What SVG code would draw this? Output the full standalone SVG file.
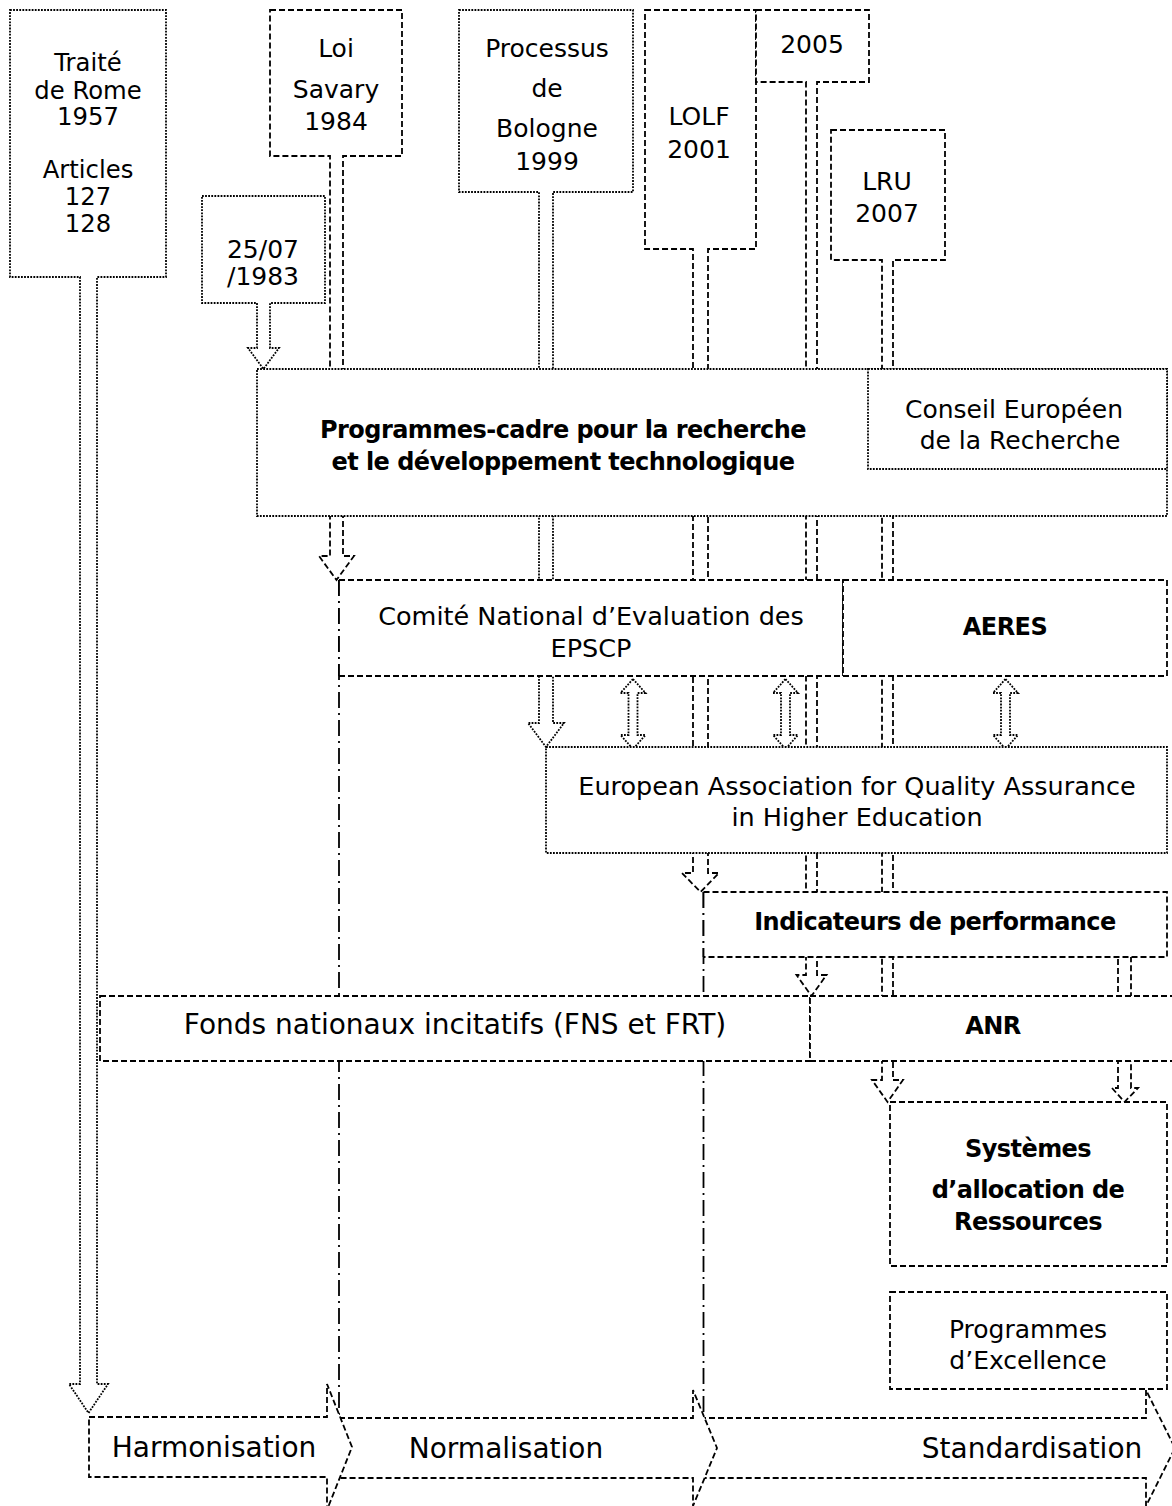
<svg xmlns="http://www.w3.org/2000/svg" width="1172" height="1506" viewBox="0 0 1172 1506">
<style>
.dot{fill:#fff;stroke:#000;stroke-width:1.8;stroke-dasharray:1.8 1.3}
.dash{fill:#fff;stroke:#000;stroke-width:1.8;stroke-dasharray:6 3}
.dashN{fill:none;stroke:#000;stroke-width:1.8;stroke-dasharray:6 3}
.dd{fill:none;stroke:#000;stroke-width:1.8;stroke-dasharray:16 5 2 5}
text{font-family:"DejaVu Sans",Verdana,sans-serif;font-size:25px;fill:#000;text-anchor:middle}
.b{font-weight:bold;font-size:24px;letter-spacing:-0.55px}
.l{font-size:28px}
.m{font-size:25.5px}
.s{font-size:24.3px}
</style>
<rect width="1172" height="1506" fill="#fff"/>
<g id="connectors">
<path id="c-traite" class="dot" d="M10,10 H166 V277 H97 V1384 H108 L88.5,1413 L69,1384 H80 V277 H10 Z"/>
<path id="c-savary" class="dash" d="M270,10 H402 V156 H343 V556 H354 L336.5,580 L319,556 H330 V156 H270 Z"/>
<path id="c-1983" class="dot" d="M202,196 H325 V303 H270 V348 H279 L263.5,369 L248,348 H257 V303 H202 Z"/>
<path id="c-bologne" class="dot" d="M459,10 H633 V192 H553 V723 H564 L546,747 L528,723 H539 V192 H459 Z"/>
<path id="c-lolf" class="dash" d="M645,10 H756 V249 H708 V873 H719 L700.5,892 L682,873 H693 V249 H645 Z"/>
<path id="c-2005" class="dash" d="M756,10 H869 V82 H817 V975 H826.5 L811.5,996 L796.5,975 H806 V82 H756 Z"/>
<path id="c-lru" class="dash" d="M831,130 H945 V260 H893 V1080 H903 L887.5,1102 L872,1080 H882 V260 H831 Z"/>
<path id="c-ind-sys" class="dash" d="M1118,950 V1088 H1112 L1124.5,1102 L1138,1088 H1131 V950"/>
<path id="c-dd1" class="dd" d="M339,580 V1417"/>
<path id="c-dd2" class="dd" d="M703.5,892 V1418"/>
<path id="c-x1" class="dot" d="M633,679 L645.5,693 H637.5 V735 H645.5 L633,749 L620.5,735 H628.5 V693 H620.5 Z"/>
<path id="c-x2" class="dot" d="M785.5,679 L798,693 H790 V735 H798 L785.5,749 L773,735 H781 V693 H773 Z"/>
<path id="c-x3" class="dot" d="M1005.5,679 L1018,693 H1010 V735 H1018 L1005.5,749 L993,735 H1001 V693 H993 Z"/>
</g>
<g id="n-traite"><text class="s" x="88" y="71">Traité</text><text class="s" x="88" y="99">de Rome</text><text class="s" x="88" y="125">1957</text><text class="s" x="88" y="178">Articles</text><text class="s" x="88" y="205">127</text><text class="s" x="88" y="232">128</text></g>
<g id="n-savary"><text x="336" y="57">Loi</text><text x="336" y="98">Savary</text><text x="336" y="130">1984</text></g>
<g id="n-1983"><text x="263" y="258">25/07</text><text x="263" y="285">/1983</text></g>
<g id="n-bologne"><text x="547" y="57">Processus</text><text x="547" y="97">de</text><text x="547" y="137">Bologne</text><text x="547" y="170">1999</text></g>
<g id="n-lolf"><text x="699" y="125">LOLF</text><text x="699" y="158">2001</text></g>
<g id="n-2005"><text x="812" y="53">2005</text></g>
<g id="n-lru"><text x="887" y="190">LRU</text><text x="887" y="222">2007</text></g>
<g id="n-pcrd"><rect class="dot" x="257" y="369" width="910" height="147"/><text class="b" x="563" y="438">Programmes-cadre pour la recherche</text><text class="b" x="563" y="470">et le développement technologique</text></g>
<g id="n-cer"><rect class="dot" x="868" y="369" width="299" height="100"/><text x="1014" y="418">Conseil Européen</text><text x="1020" y="449">de la Recherche</text></g>
<g id="n-cne"><rect x="339" y="580" width="504" height="96" fill="#fff"/><path class="dashN" d="M339,580 H843 V676 H339"/><path class="dd" d="M339,580 V676"/><text class="m" x="591" y="625">Comité National d’Evaluation des</text><text class="m" x="591" y="657">EPSCP</text></g>
<g id="n-aeres"><rect class="dash" x="843" y="580" width="324" height="96"/><text class="b" x="1005" y="635">AERES</text></g>
<g id="n-enqa"><rect class="dot" x="546" y="747" width="621" height="106"/><text class="m" x="857" y="795">European Association for Quality Assurance</text><text class="m" x="857" y="826">in Higher Education</text></g>
<g id="n-ind"><rect x="703.5" y="892" width="463.5" height="65" fill="#fff"/><path class="dashN" d="M703.5,892 H1167 V957 H703.5"/><path class="dd" d="M703.5,892 V957"/><text class="b" x="935" y="930">Indicateurs de performance</text></g>
<g id="n-fonds"><rect class="dash" x="100" y="996" width="710" height="65"/><text class="l" x="455" y="1034">Fonds nationaux incitatifs (FNS et FRT)</text></g>
<g id="n-anr"><rect class="dash" x="810" y="996" width="380" height="65"/><text class="b" x="993" y="1034">ANR</text></g>
<g id="n-sys"><rect class="dash" x="890" y="1102" width="277" height="164"/><text class="b" x="1028" y="1157">Systèmes</text><text class="b" x="1028" y="1198">d’allocation de</text><text class="b" x="1028" y="1230">Ressources</text></g>
<g id="n-excel"><rect class="dash" x="890" y="1292" width="277" height="97"/><text x="1028" y="1338">Programmes</text><text x="1028" y="1369">d’Excellence</text></g>
<g id="n-standard"><path class="dash" d="M700,1418 H1146 V1390 L1175,1448 L1146,1506 V1478 H700 Z"/><text class="l" x="1032" y="1458">Standardisation</text></g>
<g id="n-normal"><path class="dash" d="M330,1418 H693 V1390 L717,1448 L693,1506 V1478 H330 Z"/><text class="l" x="506" y="1458">Normalisation</text></g>
<g id="n-harmo"><path class="dash" d="M89,1417 H327 V1384 L352,1447 L327,1510 V1477 H89 Z"/><text class="l" x="214" y="1457">Harmonisation</text></g>
</svg>
